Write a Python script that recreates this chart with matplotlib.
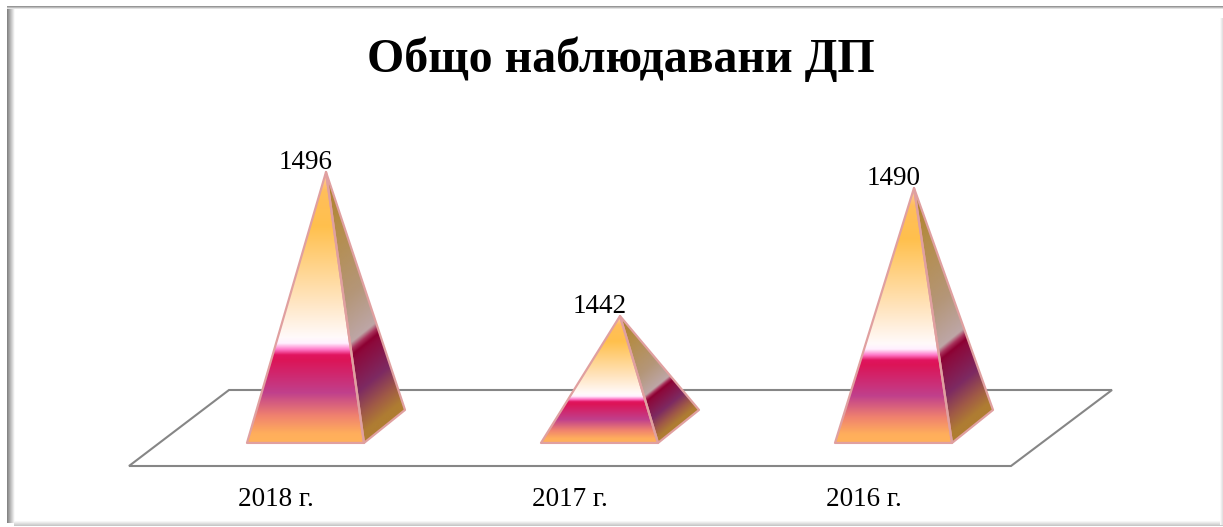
import numpy as np
import matplotlib
matplotlib.use("Agg")
import matplotlib.pyplot as plt
from matplotlib.patches import Polygon

W, H = 1223, 527
categories = ["2018 г.", "2017 г.", "2016 г."]
values = [1496, 1442, 1490]
title = "Общо наблюдавани ДП"
BASE_VALUE = 1394.4

# gradient stops: fraction of height, front colour, side colour
stops = [0, .035, .10, .185, .307, .325, .345, .368, .39, .53, .80, .93, 1]
front_cols = ["#FFB25A", "#FFAE5C", "#F0826E", "#C0408C", "#DC1457", "#E1145F", "#FF78C8",
              "#FFF0FF", "#FFFAFA", "#FFE4BE", "#FFC04D", "#FFBE5A", "#FFC8AA"]
side_cols = ["#AF7D32", "#AF7D32", "#A05A46", "#7D2A62", "#8C0A3C", "#8C0032", "#A8305A",
             "#BEA6A6", "#BCA4A0", "#B49678", "#B48C46", "#B08232", "#B08232"]
EDGE = "#E0A0A0"

plt.rcParams["font.family"] = ["Liberation Serif", "DejaVu Serif"]
fig = plt.figure(figsize=(W / 100, H / 100), dpi=100, facecolor="white")

# pixel-space backdrop: frame and floor
bg = fig.add_axes([0, 0, 1, 1])
bg.set_xlim(0, W); bg.set_ylim(H, 0); bg.axis("off")
def band(x0, x1, y0, y1, c0, c1, horizontal):
    t = np.linspace(0, 1, 16)
    a = np.array(matplotlib.colors.to_rgb(c0)); b = np.array(matplotlib.colors.to_rgb(c1))
    img = a + (b - a) * t[:, None]
    img = img[None, :, :] if horizontal else img[:, None, :]
    bg.imshow(img, extent=(x0, x1, y1, y0), aspect="auto", interpolation="bilinear", zorder=1)
band(7, 15, 7, 523, "#808080", "#FFFFFF", True)
band(7, 1223, 6, 9, "#858585", "#F4F4F4", False)
band(14, 1223, 521, 526, "#FBFBFB", "#C4C4C4", False)
band(1220, 1223, 18, 525, "#FFFFFF", "#DDDDDD", True)
bg.set_xlim(0, W); bg.set_ylim(H, 0)
bg.add_patch(Polygon([(129, 466), (229, 390), (1112, 390), (1011, 466)], closed=True,
                     fc="white", ec="#868686", lw=1.5, zorder=2))

# data axes: category index on x, value on y
ax = fig.add_axes([0, 0, 1, 1], facecolor="none")
PX_CAT, PX_VAL = 294.0, 144 / 54
x0_px, y_ref_px = 305.5, 172.0
ax.set_xlim(-x0_px / PX_CAT, (W - x0_px) / PX_CAT)
ax.set_ylim(values[0] - (H - y_ref_px) / PX_VAL, values[0] + y_ref_px / PX_VAL)
ax.axis("off")
HALF = 58.5 / PX_CAT
APEX_DX = 20.5 / PX_CAT
DEPTH_X = 41 / PX_CAT
DEPTH_Y = 33 / PX_VAL

xlim, ylim = ax.get_xlim(), ax.get_ylim()
def colour_ramp(cols, f):
    rgb = np.array([matplotlib.colors.to_rgb(c) for c in cols])
    return np.dstack([np.interp(f, stops, rgb[:, k]) for k in range(3)])

def shade(poly, cols):
    """Fill a triangle with the ramp; f=0 on first edge, f=1 at last vertex."""
    p0, p1, apex = map(np.array, poly)
    M = np.array([p1 - p0, apex - p0]).T
    inv = np.linalg.inv(M)
    xs = [p[0] for p in poly]; ys = [p[1] for p in poly]
    ext = (min(xs), max(xs), min(ys), max(ys))
    gx, gy = np.meshgrid(np.linspace(ext[0], ext[1], 300), np.linspace(ext[2], ext[3], 700))
    f = inv[1, 0] * (gx - p0[0]) + inv[1, 1] * (gy - p0[1])
    im = ax.imshow(colour_ramp(cols, np.clip(f, 0, 1)), origin="lower", extent=ext,
                   aspect="auto", interpolation="bilinear", zorder=3)
    patch = Polygon(poly, closed=True, transform=ax.transData, fc="none", ec="none")
    ax.add_patch(patch)
    im.set_clip_path(patch)

for i, v in enumerate(values):
    fl, fr = (i - HALF, BASE_VALUE), (i + HALF, BASE_VALUE)
    back = (i + HALF + DEPTH_X, BASE_VALUE + DEPTH_Y)
    apex = (i + APEX_DX, v)
    shade([fl, fr, apex], front_cols)
    shade([fr, back, apex], side_cols)
    ax.add_patch(Polygon([fl, fr, apex], closed=True, fc="none", ec=EDGE, lw=1.6, zorder=4, joinstyle="round"))
    ax.add_patch(Polygon([fr, back, apex], closed=True, fc="none", ec=EDGE, lw=1.6, zorder=4, joinstyle="round"))
    ax.annotate(str(v), (i, v), xytext=(0, 10), textcoords="offset pixels", ha="center",
                va="center", fontsize=19.5, color="black", zorder=5)
    ax.annotate(categories[i], (i, BASE_VALUE), xytext=(-30, -57), textcoords="offset pixels",
                ha="center", va="center", fontsize=19.5, color="black", zorder=5)
ax.set_xlim(xlim); ax.set_ylim(ylim)

fig.text(621 / W, 1 - 59.5 / H, title, ha="center", va="center", fontsize=34.5,
         fontweight="bold", color="black")
fig.savefig("out.png", dpi=100)
